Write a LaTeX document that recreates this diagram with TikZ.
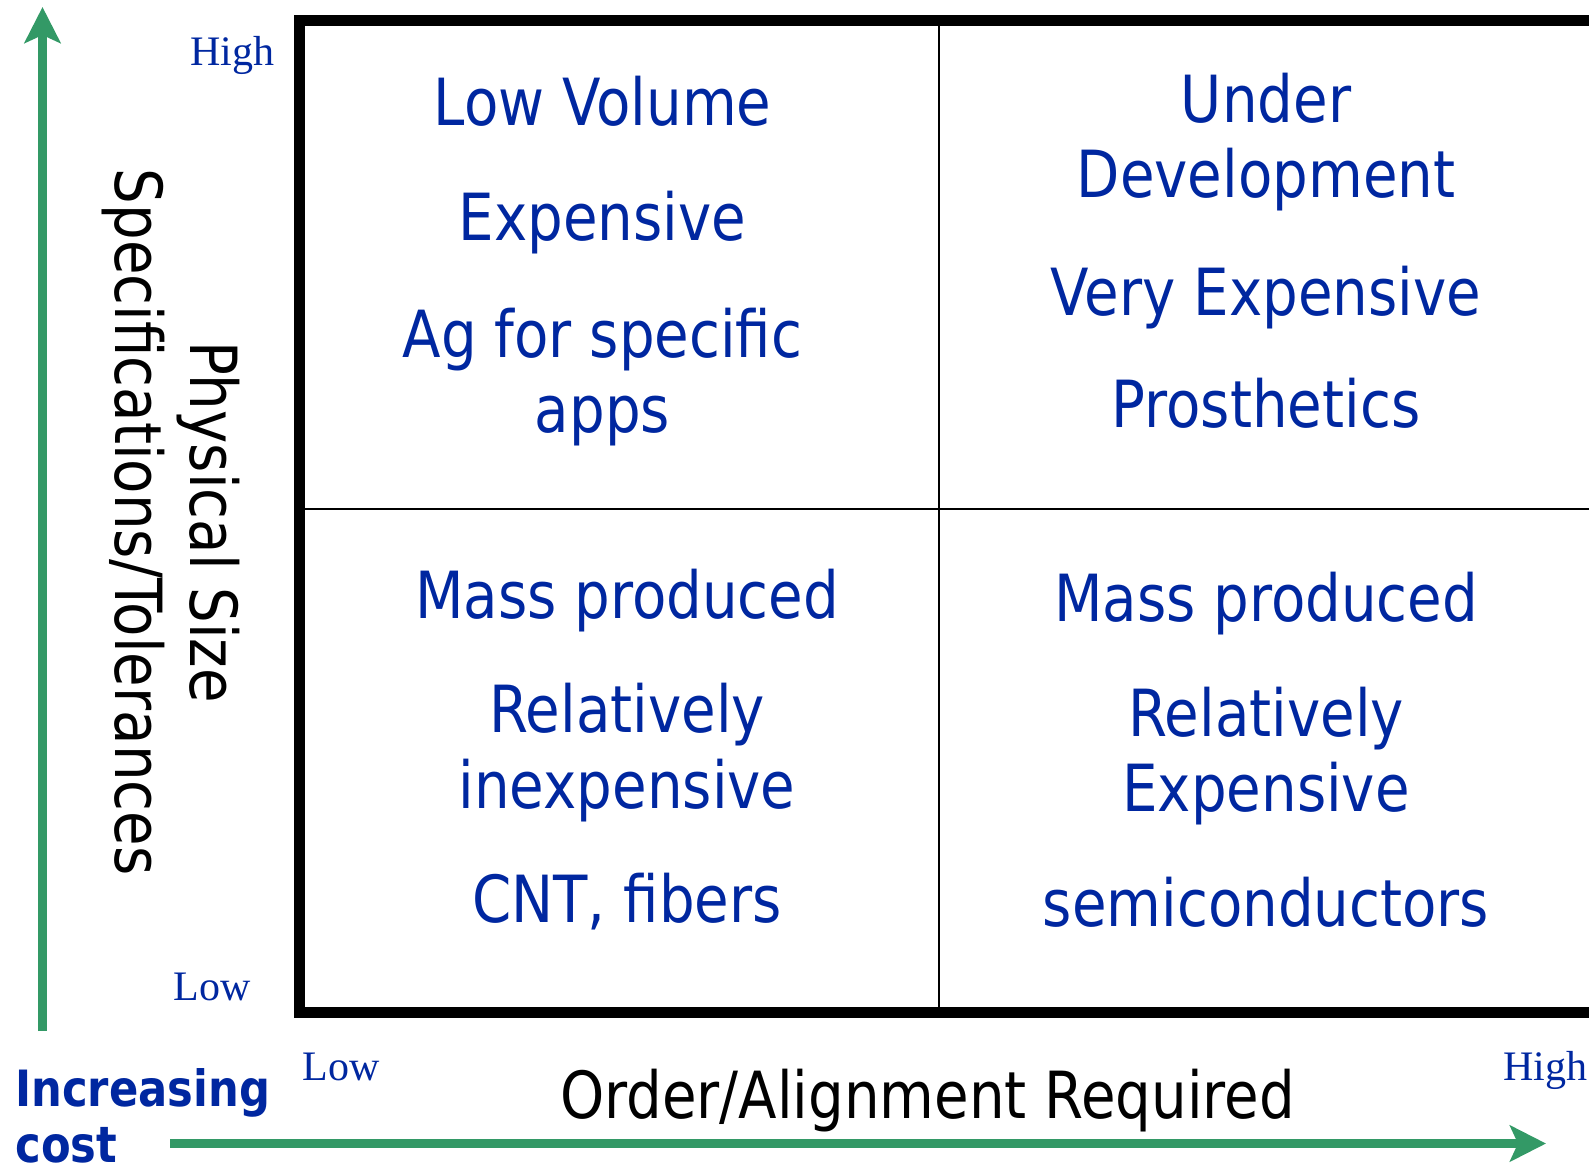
\documentclass[tikz,border=0pt]{standalone}
\usepackage{fontspec}
\usepackage{tikz}
\usetikzlibrary{arrows.meta}
\newfontfamily\tahoma[FakeStretch=0.865]{DejaVu Sans}
\newfontfamily\serifl{Liberation Serif}
\definecolor{ink}{HTML}{0027A0}
\definecolor{axisgreen}{HTML}{339966}
\tikzset{
  cell/.style={anchor=base, inner sep=0pt, text=ink, font=\tahoma\fontsize{32.5}{39}\selectfont},
  axlbl/.style={anchor=base, inner sep=0pt, font=\tahoma\fontsize{32.5}{39}\selectfont},
  lowhigh/.style={anchor=base west, inner sep=0pt, text=ink, font=\serifl\fontsize{21}{25}\selectfont},
  costlbl/.style={anchor=base west, inner sep=0pt, text=ink, font=\tahoma\bfseries\fontsize{25}{30}\selectfont},
  quadframe/.style={line width=5.5pt},
  divider/.style={line width=1pt},
  garr/.style={-{Stealth[length=18pt, width=18pt, inset=4pt]}, line width=4.5pt, axisgreen}
}

\begin{document}
\begin{tikzpicture}[x=0.5pt, y=-0.5pt]
\useasboundingbox (0,0) rectangle (1589,1163);

% quadrant grid
\coordinate (tl) at (299,20.5);
\coordinate (br) at (1600,1012);
\coordinate (mtop) at (938.6,20.5);
\coordinate (mbot) at (938.6,1012);
\coordinate (mleft) at (299,509);
\coordinate (mright) at (1600,509);
\draw[divider] (mtop) -- (mbot);
\draw[divider] (mleft) -- (mright);
\draw[quadframe] (tl) rectangle (br);

% quadrant texts
\foreach \n/\x/\y/\t in {
  lv/602.5/125/Low Volume, exa/602.5/240/Expensive, ag/602.5/357/Ag for specific, apps/602.5/432/apps,
  und/1266/122/Under, dev/1266/197.5/Development, vex/1266/315/Very Expensive, pro/1266/427/Prosthetics,
  mpa/627/618/Mass produced, rela/627/732/Relatively, inex/627/808/inexpensive, cnt/627/922/{CNT, fibers},
  mpb/1266/621/Mass produced, relb/1266/736/Relatively, exb/1266/811.5/Expensive, semi/1266/926.5/semiconductors}
  \node[cell] (\n) at (\x,\y) {\t};

% axis titles
\node[axlbl, rotate=-90] (phys) at (190,522) {Physical Size};
\node[axlbl, rotate=-90] (spec) at (115,522) {Specifications/Tolerances};
\node[axlbl] (order) at (927.5,1118) {Order/Alignment Required};

\node[lowhigh] (yhigh) at (190,65) {High};
\node[lowhigh] (ylow) at (173,1000) {Low};
\node[lowhigh] (xlow) at (302,1080) {Low};
\node[lowhigh] (xhigh) at (1503,1080) {High};

\node[costlbl] (inc) at (15,1106) {Increasing};
\node[costlbl] (cst) at (15,1162) {cost};

% cost arrows
\coordinate (vbot) at (42.5,1031);
\coordinate (vtop) at (42.5,7);
\coordinate (hleft) at (170,1143.5);
\coordinate (hright) at (1546,1143.5);
\draw[garr] (vbot) -- (vtop);
\draw[garr] (hleft) -- (hright);
\end{tikzpicture}
\end{document}
